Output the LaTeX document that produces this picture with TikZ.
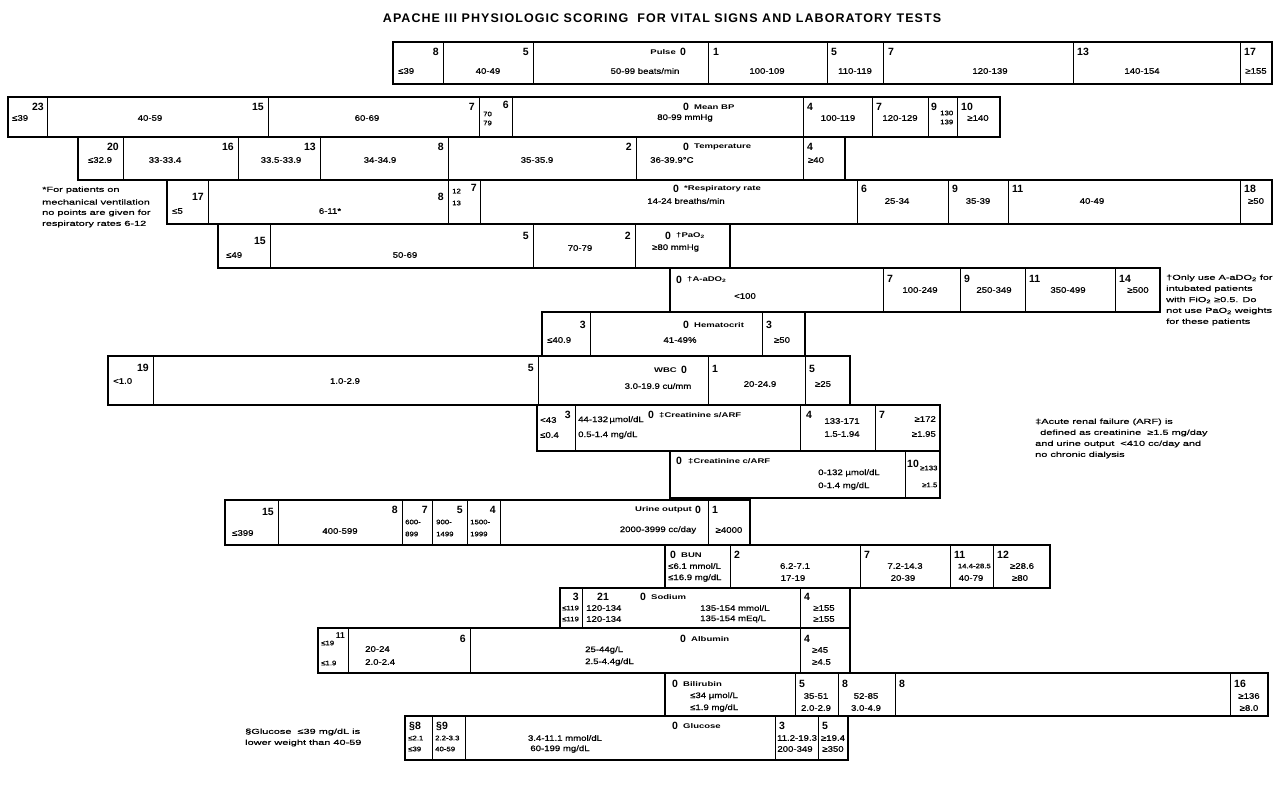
\documentclass[tikz,border=0pt]{standalone}
\usepackage{fontspec}
\setmainfont{Liberation Sans}
\newfontfamily\wideA[FakeStretch=1.2,FakeBold=0.8]{Liberation Sans}
\newfontfamily\wideB[FakeStretch=1.4]{Liberation Sans}
\newfontfamily\wideC[FakeStretch=1.5,FakeBold=0.6]{Liberation Sans}
\newcounter{nn}
\newcommand\T[3]{\stepcounter{nn}\node[#1] (n\arabic{nn}) at (#2) {#3};}
\newcommand\mkrow[5]{\draw[outerln] (#3,#1) rectangle (#4,#2);\foreach \xx in {#5}{\draw[innerln] (\xx,#1) -- (\xx,#2);}}
\begin{document}
\begin{tikzpicture}[x=1pt,y=-1pt,
  outerln/.style={line width=1.7pt},
  innerln/.style={line width=0.8pt},
  sc/.style={font=\bfseries\fontsize{10.5}{10.5}\selectfont,inner sep=0pt},
  scs/.style={font=\bfseries\fontsize{8.5}{8.5}\selectfont,inner sep=0pt},
  rg/.style={font=\wideA\fontsize{8}{9}\selectfont,inner sep=0pt},
  sm/.style={font=\wideA\fontsize{6.5}{7}\selectfont,inner sep=0pt},
  lb/.style={font=\wideB\bfseries\fontsize{6.8}{7}\selectfont,inner sep=0pt},
  nt/.style={font=\wideC\fontsize{7.3}{8}\selectfont,inner sep=0pt,anchor=west},
  ttl/.style={font=\bfseries\fontsize{12.5}{13}\selectfont\addfontfeature{LetterSpace=8.5},inner sep=0pt}]
\useasboundingbox (0,0) rectangle (1287,803);
\fill[white] (0,0) rectangle (1287,803);
\T{ttl}{662,18}{APACHE III PHYSIOLOGIC SCORING\ \ FOR VITAL SIGNS AND LABORATORY TESTS}
% ---- Pulse
\def\R{42}
\mkrow{\R}{\R+42}{393}{1272}{443,533,708,827,883,1073,1240}
\T{sc,anchor=east}{439,\R+10}{8}
\T{rg,anchor=west}{398,\R+29}{≤39}
\T{sc,anchor=east}{529,\R+10}{5}
\T{rg}{488,\R+29}{40-49}
\T{lb,anchor=east}{676,\R+10}{Pulse}
\T{sc,anchor=west}{680,\R+10}{0}
\T{rg}{645,\R+29}{50-99 beats/min}
\T{sc,anchor=west}{713,\R+10}{1}
\T{rg}{767,\R+29}{100-109}
\T{sc,anchor=west}{831,\R+10}{5}
\T{rg}{855,\R+29}{110-119}
\T{sc,anchor=west}{888,\R+10}{7}
\T{rg}{990,\R+29}{120-139}
\T{sc,anchor=west}{1077,\R+10}{13}
\T{rg}{1142,\R+29}{140-154}
\T{sc,anchor=west}{1244,\R+10}{17}
\T{rg}{1256,\R+29}{≥155}
% ---- Mean BP
\def\R{97}
\mkrow{\R}{\R+40}{8}{1000}{47,268,479,512,803,872,928,957}
\T{sc,anchor=east}{44,\R+10}{23}
\T{rg,anchor=west}{12,\R+21}{≤39}
\T{sc,anchor=east}{264,\R+10}{15}
\T{rg}{150,\R+21}{40-59}
\T{sc,anchor=east}{475,\R+10}{7}
\T{rg}{367,\R+21}{60-69}
\T{sm,anchor=west}{483,\R+17}{70}
\T{sm,anchor=west}{483,\R+26}{79}
\T{sc,anchor=east}{509,\R+8}{6}
\T{sc,anchor=west}{683,\R+10}{0}
\T{lb,anchor=west}{694,\R+10}{Mean BP}
\T{rg}{685,\R+21}{80-99 mmHg}
\T{sc,anchor=west}{807,\R+10}{4}
\T{rg}{838,\R+21}{100-119}
\T{sc,anchor=west}{876,\R+10}{7}
\T{rg}{900,\R+21}{120-129}
\T{sc,anchor=west}{931,\R+10}{9}
\T{sm,anchor=west}{940,\R+16}{130}
\T{sm,anchor=west}{940,\R+25}{139}
\T{sc,anchor=west}{961,\R+10}{10}
\T{rg}{978,\R+21}{≥140}
% ---- Temperature
\def\R{137}
\mkrow{\R}{\R+43}{78}{845}{123,238,320,448,636,803}
\T{sc,anchor=east}{119,\R+10}{20}
\T{rg}{100,\R+23}{≤32.9}
\T{sc,anchor=east}{234,\R+10}{16}
\T{rg}{165,\R+23}{33-33.4}
\T{sc,anchor=east}{316,\R+10}{13}
\T{rg}{281,\R+23}{33.5-33.9}
\T{sc,anchor=east}{444,\R+10}{8}
\T{rg}{380,\R+23}{34-34.9}
\T{sc,anchor=east}{632,\R+10}{2}
\T{rg}{537,\R+23}{35-35.9}
\T{sc,anchor=west}{683,\R+10}{0}
\T{lb,anchor=west}{694,\R+10}{Temperature}
\T{rg,anchor=west}{650,\R+23}{36-39.9°C}
\T{sc,anchor=west}{807,\R+10}{4}
\T{rg}{816,\R+23}{≥40}
% ---- Respiratory rate
\def\R{180}
\mkrow{\R}{\R+44}{167}{1272}{208,448,480,857,948,1008,1240}
\T{sc,anchor=east}{204,\R+17}{17}
\T{rg,anchor=west}{172,\R+31}{≤5}
\T{sc,anchor=east}{444,\R+17}{8}
\T{rg}{330,\R+31}{6-11*}
\T{sm,anchor=west}{452,\R+11}{12}
\T{sm,anchor=west}{452,\R+23}{13}
\T{sc,anchor=east}{477,\R+8}{7}
\T{sc,anchor=west}{673,\R+9}{0}
\T{lb,anchor=west}{684,\R+9}{*Respiratory rate}
\T{rg}{686,\R+21}{14-24 breaths/min}
\T{sc,anchor=west}{861,\R+9}{6}
\T{rg}{897,\R+21}{25-34}
\T{sc,anchor=west}{952,\R+9}{9}
\T{rg}{978,\R+21}{35-39}
\T{sc,anchor=west}{1012,\R+9}{11}
\T{rg}{1092,\R+21}{40-49}
\T{sc,anchor=west}{1244,\R+9}{18}
\T{rg}{1256,\R+21}{≥50}
\T{nt}{42,190}{*For patients on}
\T{nt}{42,202}{mechanical ventilation}
\T{nt}{42,213}{no points are given for}
\T{nt}{42,224}{respiratory rates 6-12}
% ---- PaO2
\def\R{224}
\mkrow{\R}{\R+44}{218}{730}{270,533,635}
\T{sc,anchor=east}{266,\R+17}{15}
\T{rg,anchor=west}{226,\R+31}{≤49}
\T{rg}{405,\R+31}{50-69}
\T{sc,anchor=east}{529,\R+12}{5}
\T{rg}{580,\R+24}{70-79}
\T{sc,anchor=east}{631,\R+12}{2}
\T{sc,anchor=west}{665,\R+12}{0}
\T{lb,anchor=west}{676,\R+12}{†PaO\textsubscript{2}}
\T{rg,anchor=west}{652,\R+24}{≥80 mmHg}
% ---- A-aDO2
\def\R{268}
\mkrow{\R}{\R+44}{670}{1160}{883,960,1025,1115}
\T{sc,anchor=west}{676,\R+12}{0}
\T{lb,anchor=west}{687,\R+12}{†A-aDO\textsubscript{2}}
\T{rg}{745,\R+28}{<100}
\T{sc,anchor=west}{887,\R+11}{7}
\T{rg}{920,\R+22}{100-249}
\T{sc,anchor=west}{964,\R+11}{9}
\T{rg}{994,\R+22}{250-349}
\T{sc,anchor=west}{1029,\R+11}{11}
\T{rg}{1068,\R+22}{350-499}
\T{sc,anchor=west}{1119,\R+11}{14}
\T{rg}{1138,\R+22}{≥500}
\T{nt}{1166,\R+10}{†Only use A-aDO\textsubscript{2} for}
\T{nt}{1166,\R+21}{intubated patients}
\T{nt}{1166,\R+32}{with FiO\textsubscript{2} ≥0.5. Do}
\T{nt}{1166,\R+43}{not use PaO\textsubscript{2} weights}
\T{nt}{1166,\R+54}{for these patients}
% ---- Hematocrit
\def\R{312}
\mkrow{\R}{\R+44}{542}{805}{590,762}
\T{sc,anchor=east}{586,\R+13}{3}
\T{rg,anchor=west}{547,\R+28}{≤40.9}
\T{sc,anchor=west}{683,\R+13}{0}
\T{lb,anchor=west}{694,\R+13}{Hematocrit}
\T{rg}{680,\R+28}{41-49\%}
\T{sc,anchor=west}{766,\R+13}{3}
\T{rg}{782,\R+28}{≥50}
% ---- WBC
\def\R{356}
\mkrow{\R}{\R+49}{108}{850}{153,538,708,805}
\T{sc,anchor=east}{149,\R+12}{19}
\T{rg,anchor=west}{113,\R+25}{<1.0}
\T{sc,anchor=east}{534,\R+12}{5}
\T{rg}{345,\R+25}{1.0-2.9}
\T{lb,anchor=east}{677,\R+14}{WBC}
\T{sc,anchor=west}{681,\R+14}{0}
\T{rg}{658,\R+30}{3.0-19.9 cu/mm}
\T{sc,anchor=west}{712,\R+13}{1}
\T{rg}{760,\R+28}{20-24.9}
\T{sc,anchor=west}{809,\R+13}{5}
\T{rg}{823,\R+28}{≥25}
% ---- Creatinine s/ARF
\def\R{405}
\mkrow{\R}{\R+46}{537}{940}{575,800,875}
\T{sc,anchor=east}{571,\R+10}{3}
\T{rg,anchor=west}{540,\R+15}{<43}
\T{rg,anchor=west}{540,\R+30}{≤0.4}
\T{rg,anchor=west}{578,\R+15}{44-132\,µmol/dL}
\T{sc,anchor=west}{648,\R+10}{0}
\T{lb,anchor=west}{659,\R+10}{‡Creatinine s/ARF}
\T{rg,anchor=west}{578,\R+30}{0.5-1.4 mg/dL}
\T{sc,anchor=west}{806,\R+10}{4}
\T{rg}{842,\R+16}{133-171}
\T{rg}{842,\R+29}{1.5-1.94}
\T{sc,anchor=west}{879,\R+10}{7}
\T{rg,anchor=east}{936,\R+14}{≥172}
\T{rg,anchor=east}{936,\R+29}{≥1.95}
\T{nt}{1035,\R+17}{‡Acute renal failure (ARF) is}
\T{nt}{1040,\R+28}{defined as creatinine\ \ ≥1.5 mg/day}
\T{nt}{1035,\R+39}{and urine output\ \ <410 cc/day and}
\T{nt}{1035,\R+50}{no chronic dialysis}
% ---- Creatinine c/ARF
\def\R{451}
\mkrow{\R}{\R+47}{670}{940}{905}
\T{sc,anchor=west}{676,\R+10}{0}
\T{lb,anchor=west}{688,\R+10}{‡Creatinine c/ARF}
\T{rg,anchor=west}{818,\R+22}{0-132\ µmol/dL}
\T{rg,anchor=west}{818,\R+35}{0-1.4 mg/dL}
\T{sc,anchor=west}{907,\R+13}{10}
\T{sm,anchor=west}{920,\R+17}{≥133}
\T{sm,anchor=west}{922,\R+34}{≥1.5}
% ---- Urine output
\def\R{500}
\mkrow{\R}{\R+45}{225}{750}{278,402,432,467,500,708}
\T{sc,anchor=east}{274,\R+12}{15}
\T{rg,anchor=west}{232,\R+33}{≤399}
\T{sc,anchor=east}{398,\R+10}{8}
\T{rg}{340,\R+31}{400-599}
\T{sc,anchor=east}{428,\R+10}{7}
\T{sm,anchor=west}{405,\R+22}{600-}
\T{sm,anchor=west}{405,\R+34}{899}
\T{sc,anchor=east}{463,\R+10}{5}
\T{sm,anchor=west}{436,\R+22}{900-}
\T{sm,anchor=west}{436,\R+34}{1499}
\T{sc,anchor=east}{496,\R+10}{4}
\T{sm,anchor=west}{470,\R+22}{1500-}
\T{sm,anchor=west}{470,\R+34}{1999}
\T{lb,anchor=east}{692,\R+10}{Urine output}
\T{sc,anchor=west}{695,\R+10}{0}
\T{rg}{658,\R+30}{2000-3999 cc/day}
\T{sc,anchor=west}{712,\R+10}{1}
\T{rg}{729,\R+30}{≥4000}
% ---- BUN
\def\R{545}
\mkrow{\R}{\R+43}{665}{1050}{730,860,950,993}
\T{sc,anchor=west}{670,\R+10}{0}
\T{lb,anchor=west}{681,\R+10}{BUN}
\T{rg,anchor=west}{668,\R+21}{≤6.1 mmol/L}
\T{rg,anchor=west}{668,\R+33}{≤16.9 mg/dL}
\T{sc,anchor=west}{734,\R+10}{2}
\T{rg}{795,\R+21}{6.2-7.1}
\T{rg}{793,\R+33}{17-19}
\T{sc,anchor=west}{864,\R+10}{7}
\T{rg}{905,\R+21}{7.2-14.3}
\T{rg}{903,\R+33}{20-39}
\T{sc,anchor=west}{954,\R+10}{11}
\T{sm,anchor=east}{991,\R+21}{14.4-28.5}
\T{rg}{971,\R+33}{40-79}
\T{sc,anchor=west}{997,\R+10}{12}
\T{rg}{1022,\R+21}{≥28.6}
\T{rg}{1020,\R+33}{≥80}
% ---- Sodium
\def\R{588}
\mkrow{\R}{\R+40}{560}{850}{582,800}
\T{sc,anchor=east}{579,\R+9}{3}
\T{sm,anchor=west}{562,\R+20}{≤119}
\T{sm,anchor=west}{562,\R+31}{≤119}
\T{sc}{603,\R+9}{21}
\T{rg,anchor=west}{586,\R+20}{120-134}
\T{rg,anchor=west}{586,\R+31}{120-134}
\T{sc,anchor=west}{640,\R+9}{0}
\T{lb,anchor=west}{651,\R+9}{Sodium}
\T{rg,anchor=west}{700,\R+20}{135-154 mmol/L}
\T{rg,anchor=west}{700,\R+31}{135-154 mEq/L}
\T{sc,anchor=west}{804,\R+9}{4}
\T{rg}{824,\R+20}{≥155}
\T{rg}{824,\R+31}{≥155}
% ---- Albumin
\def\R{628}
\mkrow{\R}{\R+45}{318}{850}{348,470,800}
\T{scs,anchor=east}{345,\R+8}{11}
\T{sm,anchor=west}{321,\R+15}{≤19}
\T{sm,anchor=west}{321,\R+35}{≤1.9}
\T{rg,anchor=west}{365,\R+21}{20-24}
\T{rg,anchor=west}{365,\R+34}{2.0-2.4}
\T{sc,anchor=east}{466,\R+11}{6}
\T{sc,anchor=west}{680,\R+11}{0}
\T{lb,anchor=west}{691,\R+11}{Albumin}
\T{rg,anchor=west}{585,\R+22}{25-44g/L}
\T{rg,anchor=west}{585,\R+34}{2.5-4.4g/dL}
\T{sc,anchor=west}{804,\R+11}{4}
\T{rg,anchor=west}{812,\R+22}{≥45}
\T{rg,anchor=west}{812,\R+34}{≥4.5}
% ---- Bilirubin
\def\R{673}
\mkrow{\R}{\R+43}{665}{1268}{795,838,895,1230}
\T{sc,anchor=west}{672,\R+11}{0}
\T{lb,anchor=west}{683,\R+11}{Bilirubin}
\T{rg,anchor=west}{690,\R+23}{≤34 µmol/L}
\T{rg,anchor=west}{690,\R+35}{≤1.9 mg/dL}
\T{sc,anchor=west}{799,\R+11}{5}
\T{rg}{816,\R+23}{35-51}
\T{rg}{816,\R+35}{2.0-2.9}
\T{sc,anchor=west}{842,\R+11}{8}
\T{rg}{866,\R+23}{52-85}
\T{rg}{866,\R+35}{3.0-4.9}
\T{sc,anchor=west}{899,\R+11}{8}
\T{sc,anchor=west}{1234,\R+11}{16}
\T{rg}{1249,\R+23}{≥136}
\T{rg}{1249,\R+35}{≥8.0}
% ---- Glucose
\def\R{716}
\mkrow{\R}{\R+44}{405}{848}{432,465,775,818}
\T{sc,anchor=west}{409,\R+10}{§8}
\T{sm,anchor=west}{408,\R+22}{≤2.1}
\T{sm,anchor=west}{408,\R+33}{≤39}
\T{sc,anchor=west}{436,\R+10}{§9}
\T{sm,anchor=west}{435,\R+22}{2.2-3.3}
\T{sm,anchor=west}{435,\R+33}{40-59}
\T{sc,anchor=west}{672,\R+10}{0}
\T{lb,anchor=west}{683,\R+10}{Glucose}
\T{rg}{565,\R+22}{3.4-11.1 mmol/dL}
\T{rg}{560,\R+33}{60-199 mg/dL}
\T{sc,anchor=west}{779,\R+10}{3}
\T{rg}{797,\R+22}{11.2-19.3}
\T{rg}{795,\R+33}{200-349}
\T{sc,anchor=west}{822,\R+10}{5}
\T{rg}{833,\R+22}{≥19.4}
\T{rg}{833,\R+33}{≥350}
\T{nt}{245,732}{§Glucose\ \ ≤39 mg/dL is}
\T{nt}{245,743}{lower weight than 40-59}
\end{tikzpicture}
\end{document}
